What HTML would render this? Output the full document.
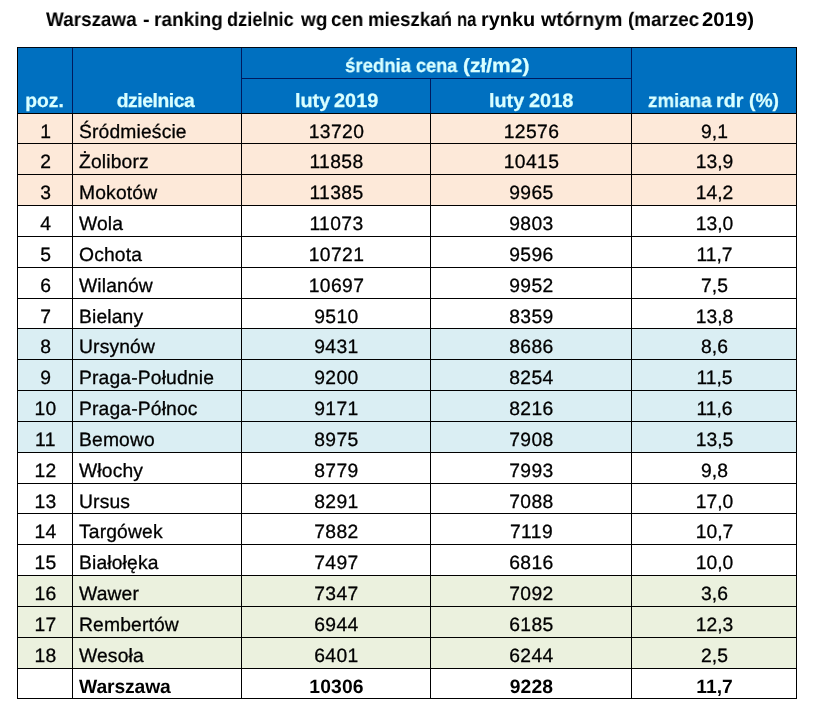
<!DOCTYPE html>
<html><head><meta charset="utf-8"><style>
html,body{margin:0;padding:0}
body{text-rendering:geometricPrecision;-webkit-font-smoothing:antialiased;width:817px;height:706px;background:#fff;position:relative;overflow:hidden;font-family:"Liberation Sans",sans-serif;color:#000}
.a{position:absolute}
.t{will-change:transform;-webkit-text-stroke:0.3px currentColor;position:absolute;white-space:nowrap;font-size:19.3px;line-height:20px;height:20px}
.c{text-align:center}
.b{font-weight:bold;-webkit-text-stroke:0}
.h{color:#D9FFFF;font-weight:bold;-webkit-text-stroke:0.25px currentColor}
.hl{position:absolute;height:1px;background:#000}
.vl{position:absolute;width:1px;background:#000}
</style></head><body>

<div class="t b" style="left:45.82px;top:9.69px;font-size:19.8px;transform:scaleX(0.9546);transform-origin:0 0">Warszawa</div>
<div class="t b" style="left:143.23px;top:9.69px;font-size:19.8px;transform:scaleX(0.9992);transform-origin:0 0">-</div>
<div class="t b" style="left:154.39px;top:9.69px;font-size:19.8px;transform:scaleX(0.9635);transform-origin:0 0">ranking</div>
<div class="t b" style="left:226.82px;top:9.69px;font-size:19.8px;transform:scaleX(0.9200);transform-origin:0 0">dzielnic</div>
<div class="t b" style="left:300.59px;top:9.69px;font-size:19.8px;transform:scaleX(0.9574);transform-origin:0 0">wg</div>
<div class="t b" style="left:331.23px;top:9.69px;font-size:19.8px;transform:scaleX(0.9493);transform-origin:0 0">cen</div>
<div class="t b" style="left:367.52px;top:9.69px;font-size:19.8px;transform:scaleX(0.9424);transform-origin:0 0">mieszkań</div>
<div class="t b" style="left:457.25px;top:9.69px;font-size:19.8px;transform:scaleX(0.8419);transform-origin:0 0">na</div>
<div class="t b" style="left:481.23px;top:9.69px;font-size:19.8px;transform:scaleX(1.0054);transform-origin:0 0">rynku</div>
<div class="t b" style="left:541.39px;top:9.69px;font-size:19.8px;transform:scaleX(0.9889);transform-origin:0 0">wtórnym</div>
<div class="t b" style="left:627.84px;top:9.69px;font-size:19.8px;transform:scaleX(0.9515);transform-origin:0 0">(marzec</div>
<div class="t b" style="left:702.29px;top:9.69px;font-size:19.8px;transform:scaleX(1.0272);transform-origin:0 0">2019)</div>
<div class="a" style="left:17px;top:47px;width:780px;height:66px;background:#0070C0"></div>
<div class="a" style="left:17px;top:114px;width:780px;height:29px;background:#FDE9D9"></div>
<div class="a" style="left:17px;top:144px;width:780px;height:30px;background:#FDE9D9"></div>
<div class="a" style="left:17px;top:175px;width:780px;height:30px;background:#FDE9D9"></div>
<div class="a" style="left:17px;top:329px;width:780px;height:30px;background:#DAEEF3"></div>
<div class="a" style="left:17px;top:360px;width:780px;height:30px;background:#DAEEF3"></div>
<div class="a" style="left:17px;top:391px;width:780px;height:30px;background:#DAEEF3"></div>
<div class="a" style="left:17px;top:422px;width:780px;height:30px;background:#DAEEF3"></div>
<div class="a" style="left:17px;top:576px;width:780px;height:30px;background:#EBF1DE"></div>
<div class="a" style="left:17px;top:607px;width:780px;height:30px;background:#EBF1DE"></div>
<div class="a" style="left:17px;top:638px;width:780px;height:30px;background:#EBF1DE"></div>
<div class="hl" style="left:17px;top:47px;width:780px;background:#000814"></div>
<div class="hl" style="left:241px;top:78px;width:391px;background:#001a5e"></div>
<div class="hl" style="left:17px;top:113px;width:780px"></div>
<div class="hl" style="left:17px;top:143px;width:780px"></div>
<div class="hl" style="left:17px;top:174px;width:780px"></div>
<div class="hl" style="left:17px;top:205px;width:780px"></div>
<div class="hl" style="left:17px;top:236px;width:780px"></div>
<div class="hl" style="left:17px;top:267px;width:780px"></div>
<div class="hl" style="left:17px;top:298px;width:780px"></div>
<div class="hl" style="left:17px;top:328px;width:780px"></div>
<div class="hl" style="left:17px;top:359px;width:780px"></div>
<div class="hl" style="left:17px;top:390px;width:780px"></div>
<div class="hl" style="left:17px;top:421px;width:780px"></div>
<div class="hl" style="left:17px;top:452px;width:780px"></div>
<div class="hl" style="left:17px;top:483px;width:780px"></div>
<div class="hl" style="left:17px;top:513px;width:780px"></div>
<div class="hl" style="left:17px;top:544px;width:780px"></div>
<div class="hl" style="left:17px;top:575px;width:780px"></div>
<div class="hl" style="left:17px;top:606px;width:780px"></div>
<div class="hl" style="left:17px;top:637px;width:780px"></div>
<div class="hl" style="left:17px;top:668px;width:780px"></div>
<div class="hl" style="left:17px;top:698px;width:780px"></div>
<div class="vl" style="left:17px;top:47px;height:652px"></div>
<div class="vl" style="left:72px;top:48px;height:65px;background:#001a5e"></div>
<div class="vl" style="left:72px;top:113px;height:586px"></div>
<div class="vl" style="left:241px;top:48px;height:65px;background:#001a5e"></div>
<div class="vl" style="left:241px;top:113px;height:586px"></div>
<div class="vl" style="left:430px;top:79px;height:34px;background:#001a5e"></div>
<div class="vl" style="left:430px;top:113px;height:586px"></div>
<div class="vl" style="left:631px;top:48px;height:65px;background:#001a5e"></div>
<div class="vl" style="left:631px;top:113px;height:586px"></div>
<div class="vl" style="left:796px;top:47px;height:652px"></div>
<div class="t h" style="left:344.65px;top:56.86px;transform:scaleX(0.9632);transform-origin:0 0">średnia</div>
<div class="t h" style="left:416.03px;top:56.86px;transform:scaleX(0.9383);transform-origin:0 0">cena</div>
<div class="t h" style="left:463.01px;top:56.86px;transform:scaleX(1.0867);transform-origin:0 0">(zł/m2)</div>
<div class="t h" style="left:648.06px;top:91.76px;transform:scaleX(0.9720);transform-origin:0 0">zmiana</div>
<div class="t h" style="left:716.45px;top:91.76px;transform:scaleX(1.0222);transform-origin:0 0">rdr</div>
<div class="t h" style="left:748.90px;top:91.76px;transform:scaleX(0.9999);transform-origin:0 0">(%)</div>
<div class="t h" style="left:294.60px;top:91.76px;transform:scaleX(1.0281);transform-origin:0 0">luty</div>
<div class="t h" style="left:334.30px;top:91.76px;transform:scaleX(1.0328);transform-origin:0 0">2019</div>
<div class="t h" style="left:489.41px;top:91.76px;transform:scaleX(1.0250);transform-origin:0 0">luty</div>
<div class="t h" style="left:529.10px;top:91.76px;transform:scaleX(1.0352);transform-origin:0 0">2018</div>
<div class="t c h" style="left:17.3px;width:55px;top:91.76px;">poz.</div>
<div class="t c h" style="left:71.0px;width:169px;top:91.76px;letter-spacing:-0.45px;">dzielnica</div>
<div class="t c " style="left:17.7px;width:55px;top:122.76px;">1</div>
<div class="t " style="left:79.2px;top:122.76px;letter-spacing:0.15px">Śródmieście</div>
<div class="t c " style="left:242.3px;width:189px;top:122.76px;letter-spacing:0.40px;">13720</div>
<div class="t c " style="left:431.2px;width:201px;top:122.76px;letter-spacing:0.40px;">12576</div>
<div class="t c " style="left:632.0px;width:165px;top:122.76px;">9,1</div>
<div class="t c " style="left:17.7px;width:55px;top:152.76px;">2</div>
<div class="t " style="left:79.2px;top:152.76px;letter-spacing:0.15px">Żoliborz</div>
<div class="t c " style="left:242.3px;width:189px;top:152.76px;letter-spacing:0.40px;">11858</div>
<div class="t c " style="left:431.2px;width:201px;top:152.76px;letter-spacing:0.40px;">10415</div>
<div class="t c " style="left:632.0px;width:165px;top:152.76px;">13,9</div>
<div class="t c " style="left:17.7px;width:55px;top:183.76px;">3</div>
<div class="t " style="left:79.2px;top:183.76px;letter-spacing:0.15px">Mokotów</div>
<div class="t c " style="left:242.3px;width:189px;top:183.76px;letter-spacing:0.40px;">11385</div>
<div class="t c " style="left:431.2px;width:201px;top:183.76px;letter-spacing:0.40px;">9965</div>
<div class="t c " style="left:632.0px;width:165px;top:183.76px;">14,2</div>
<div class="t c " style="left:17.7px;width:55px;top:214.76px;">4</div>
<div class="t " style="left:79.2px;top:214.76px;letter-spacing:0.15px">Wola</div>
<div class="t c " style="left:242.3px;width:189px;top:214.76px;letter-spacing:0.40px;">11073</div>
<div class="t c " style="left:431.2px;width:201px;top:214.76px;letter-spacing:0.40px;">9803</div>
<div class="t c " style="left:632.0px;width:165px;top:214.76px;">13,0</div>
<div class="t c " style="left:17.7px;width:55px;top:245.76px;">5</div>
<div class="t " style="left:79.2px;top:245.76px;letter-spacing:0.15px">Ochota</div>
<div class="t c " style="left:242.3px;width:189px;top:245.76px;letter-spacing:0.40px;">10721</div>
<div class="t c " style="left:431.2px;width:201px;top:245.76px;letter-spacing:0.40px;">9596</div>
<div class="t c " style="left:632.0px;width:165px;top:245.76px;">11,7</div>
<div class="t c " style="left:17.7px;width:55px;top:276.76px;">6</div>
<div class="t " style="left:79.2px;top:276.76px;letter-spacing:0.15px">Wilanów</div>
<div class="t c " style="left:242.3px;width:189px;top:276.76px;letter-spacing:0.40px;">10697</div>
<div class="t c " style="left:431.2px;width:201px;top:276.76px;letter-spacing:0.40px;">9952</div>
<div class="t c " style="left:632.0px;width:165px;top:276.76px;">7,5</div>
<div class="t c " style="left:17.7px;width:55px;top:307.76px;">7</div>
<div class="t " style="left:79.2px;top:307.76px;letter-spacing:0.15px">Bielany</div>
<div class="t c " style="left:242.3px;width:189px;top:307.76px;letter-spacing:0.40px;">9510</div>
<div class="t c " style="left:431.2px;width:201px;top:307.76px;letter-spacing:0.40px;">8359</div>
<div class="t c " style="left:632.0px;width:165px;top:307.76px;">13,8</div>
<div class="t c " style="left:17.7px;width:55px;top:337.76px;">8</div>
<div class="t " style="left:79.2px;top:337.76px;letter-spacing:0.15px">Ursynów</div>
<div class="t c " style="left:242.3px;width:189px;top:337.76px;letter-spacing:0.40px;">9431</div>
<div class="t c " style="left:431.2px;width:201px;top:337.76px;letter-spacing:0.40px;">8686</div>
<div class="t c " style="left:632.0px;width:165px;top:337.76px;">8,6</div>
<div class="t c " style="left:17.7px;width:55px;top:368.76px;">9</div>
<div class="t " style="left:79.2px;top:368.76px;letter-spacing:0.15px">Praga-Południe</div>
<div class="t c " style="left:242.3px;width:189px;top:368.76px;letter-spacing:0.40px;">9200</div>
<div class="t c " style="left:431.2px;width:201px;top:368.76px;letter-spacing:0.40px;">8254</div>
<div class="t c " style="left:632.0px;width:165px;top:368.76px;">11,5</div>
<div class="t c " style="left:17.6px;width:55px;top:399.76px;letter-spacing:0.40px;">10</div>
<div class="t " style="left:79.2px;top:399.76px;letter-spacing:0.15px">Praga-Północ</div>
<div class="t c " style="left:242.3px;width:189px;top:399.76px;letter-spacing:0.40px;">9171</div>
<div class="t c " style="left:431.2px;width:201px;top:399.76px;letter-spacing:0.40px;">8216</div>
<div class="t c " style="left:632.0px;width:165px;top:399.76px;">11,6</div>
<div class="t c " style="left:17.6px;width:55px;top:430.76px;letter-spacing:0.40px;">11</div>
<div class="t " style="left:79.2px;top:430.76px;letter-spacing:0.15px">Bemowo</div>
<div class="t c " style="left:242.3px;width:189px;top:430.76px;letter-spacing:0.40px;">8975</div>
<div class="t c " style="left:431.2px;width:201px;top:430.76px;letter-spacing:0.40px;">7908</div>
<div class="t c " style="left:632.0px;width:165px;top:430.76px;">13,5</div>
<div class="t c " style="left:17.6px;width:55px;top:461.76px;letter-spacing:0.40px;">12</div>
<div class="t " style="left:79.2px;top:461.76px;letter-spacing:0.15px">Włochy</div>
<div class="t c " style="left:242.3px;width:189px;top:461.76px;letter-spacing:0.40px;">8779</div>
<div class="t c " style="left:431.2px;width:201px;top:461.76px;letter-spacing:0.40px;">7993</div>
<div class="t c " style="left:632.0px;width:165px;top:461.76px;">9,8</div>
<div class="t c " style="left:17.6px;width:55px;top:492.76px;letter-spacing:0.40px;">13</div>
<div class="t " style="left:79.2px;top:492.76px;letter-spacing:0.15px">Ursus</div>
<div class="t c " style="left:242.3px;width:189px;top:492.76px;letter-spacing:0.40px;">8291</div>
<div class="t c " style="left:431.2px;width:201px;top:492.76px;letter-spacing:0.40px;">7088</div>
<div class="t c " style="left:632.0px;width:165px;top:492.76px;">17,0</div>
<div class="t c " style="left:17.6px;width:55px;top:522.76px;letter-spacing:0.40px;">14</div>
<div class="t " style="left:79.2px;top:522.76px;letter-spacing:0.15px">Targówek</div>
<div class="t c " style="left:242.3px;width:189px;top:522.76px;letter-spacing:0.40px;">7882</div>
<div class="t c " style="left:431.2px;width:201px;top:522.76px;letter-spacing:0.40px;">7119</div>
<div class="t c " style="left:632.0px;width:165px;top:522.76px;">10,7</div>
<div class="t c " style="left:17.6px;width:55px;top:553.76px;letter-spacing:0.40px;">15</div>
<div class="t " style="left:79.2px;top:553.76px;letter-spacing:0.15px">Białołęka</div>
<div class="t c " style="left:242.3px;width:189px;top:553.76px;letter-spacing:0.40px;">7497</div>
<div class="t c " style="left:431.2px;width:201px;top:553.76px;letter-spacing:0.40px;">6816</div>
<div class="t c " style="left:632.0px;width:165px;top:553.76px;">10,0</div>
<div class="t c " style="left:17.6px;width:55px;top:584.76px;letter-spacing:0.40px;">16</div>
<div class="t " style="left:79.2px;top:584.76px;letter-spacing:0.15px">Wawer</div>
<div class="t c " style="left:242.3px;width:189px;top:584.76px;letter-spacing:0.40px;">7347</div>
<div class="t c " style="left:431.2px;width:201px;top:584.76px;letter-spacing:0.40px;">7092</div>
<div class="t c " style="left:632.0px;width:165px;top:584.76px;">3,6</div>
<div class="t c " style="left:17.6px;width:55px;top:615.76px;letter-spacing:0.40px;">17</div>
<div class="t " style="left:79.2px;top:615.76px;letter-spacing:0.15px">Rembertów</div>
<div class="t c " style="left:242.3px;width:189px;top:615.76px;letter-spacing:0.40px;">6944</div>
<div class="t c " style="left:431.2px;width:201px;top:615.76px;letter-spacing:0.40px;">6185</div>
<div class="t c " style="left:632.0px;width:165px;top:615.76px;">12,3</div>
<div class="t c " style="left:17.6px;width:55px;top:646.76px;letter-spacing:0.40px;">18</div>
<div class="t " style="left:79.2px;top:646.76px;letter-spacing:0.15px">Wesoła</div>
<div class="t c " style="left:242.3px;width:189px;top:646.76px;letter-spacing:0.40px;">6401</div>
<div class="t c " style="left:431.2px;width:201px;top:646.76px;letter-spacing:0.40px;">6244</div>
<div class="t c " style="left:632.0px;width:165px;top:646.76px;">2,5</div>
<div class="t c b" style="left:17.6px;width:55px;top:677.76px;letter-spacing:0.40px;"></div>
<div class="t b" style="left:79.4px;top:677.76px;letter-spacing:-0.10px">Warszawa</div>
<div class="t c b" style="left:242.2px;width:189px;top:677.76px;letter-spacing:0.15px;">10306</div>
<div class="t c b" style="left:431.1px;width:201px;top:677.76px;letter-spacing:0.15px;">9228</div>
<div class="t c b" style="left:632.0px;width:165px;top:677.76px;">11,7</div>
</body></html>
